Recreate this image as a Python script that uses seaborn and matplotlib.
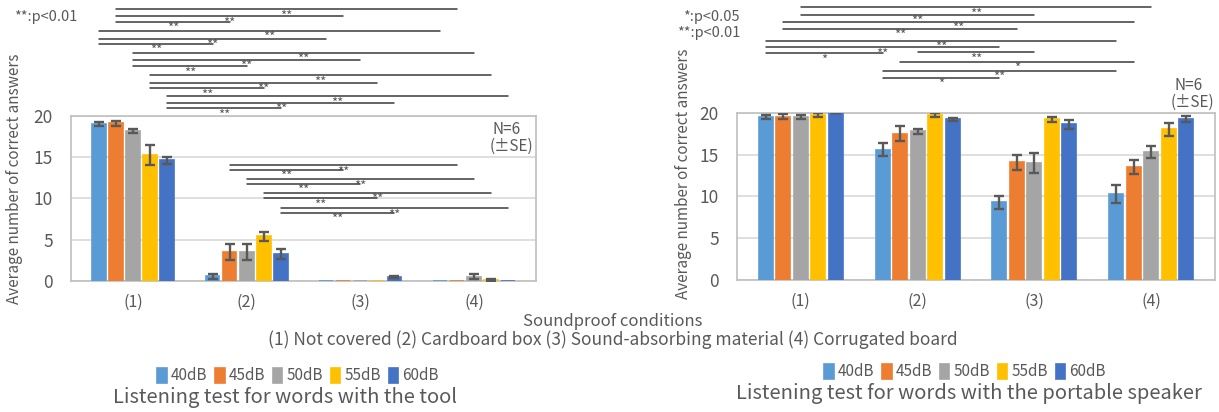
import numpy as np
import pandas as pd
import seaborn as sns
import matplotlib.pyplot as plt
from matplotlib.container import BarContainer

# data
conditions = ['(1)', '(2)', '(3)', '(4)']
levels = ['40dB', '45dB', '50dB', '55dB', '60dB']
colors = ['#5B9BD5', '#ED7D31', '#A5A5A5', '#FFC000', '#4472C4']

# listening test with the tool (rows = level, cols = condition)
tool_mean = [[19.0, 0.6, 0.0, 0.0],
             [19.1, 3.5, 0.0, 0.0],
             [18.1, 3.5, 0.0, 0.5],
             [15.2, 5.4, 0.0, 0.15],
             [14.6, 3.3, 0.5, 0.0]]
tool_se = [[0.25, 0.3, 0.0, 0.0],
           [0.3, 1.0, 0.0, 0.0],
           [0.25, 1.0, 0.0, 0.3],
           [1.2, 0.55, 0.0, 0.15],
           [0.45, 0.6, 0.15, 0.0]]

# listening test with the portable speaker
spk_mean = [[19.5, 15.6, 9.3, 10.3],
            [19.5, 17.5, 14.1, 13.5],
            [19.5, 17.8, 14.0, 15.3],
            [19.7, 19.7, 19.2, 18.0],
            [20.0, 19.2, 18.6, 19.2]]
spk_se = [[0.2, 0.8, 0.8, 1.05],
          [0.3, 0.9, 0.9, 0.85],
          [0.2, 0.3, 1.2, 0.7],
          [0.25, 0.25, 0.3, 0.75],
          [0.0, 0.15, 0.5, 0.35]]

# significance brackets: (level, from condition, to condition, mark, height)
tool_sig = [('45dB', 0, 3, '**', 32.9), ('45dB', 0, 2, '**', 32.06), ('45dB', 0, 1, '**', 31.34),
            ('40dB', 0, 3, '**', 30.25), ('40dB', 0, 2, '**', 29.34), ('40dB', 0, 1, '**', 28.68),
            ('50dB', 0, 3, '**', 27.59), ('50dB', 0, 2, '**', 26.74), ('50dB', 0, 1, '**', 26.0),
            ('55dB', 0, 3, '**', 24.92), ('55dB', 0, 2, '**', 23.96), ('55dB', 0, 1, '**', 23.35),
            ('60dB', 0, 3, '**', 22.38), ('60dB', 0, 2, '**', 21.54), ('60dB', 0, 1, '**', 20.93),
            ('45dB', 1, 3, '**', 14.03), ('45dB', 1, 2, '**', 13.43),
            ('50dB', 1, 3, '**', 12.34), ('50dB', 1, 2, '**', 11.74),
            ('55dB', 1, 3, '**', 10.65), ('55dB', 1, 2, '**', 10.04),
            ('60dB', 1, 3, '**', 8.83), ('60dB', 1, 2, '**', 8.23)]
spk_sig = [('50dB', 0, 3, '**', 32.6), ('50dB', 0, 2, '**', 31.7),
           ('45dB', 0, 3, '**', 30.9), ('45dB', 0, 2, '**', 30.06),
           ('40dB', 0, 3, '**', 28.6), ('40dB', 0, 2, '**', 27.8), ('40dB', 0, 1, '*', 27.1),
           ('50dB', 1, 2, '**', 27.2), ('45dB', 1, 3, '*', 26.1),
           ('40dB', 1, 3, '**', 25.0), ('40dB', 1, 2, '*', 24.2)]

W, H = 1219, 412
TXT = '#595959'

sns.set_style('white')
plt.rcParams['font.family'] = ['Noto Sans CJK JP', 'DejaVu Sans']

fig = plt.figure(figsize=(W / 100, H / 100), dpi=100)


def px(x, y):
    return x / W, 1 - y / H


def long_df(means, ses):
    rows = []
    for i, lv in enumerate(levels):
        for j, c in enumerate(conditions):
            rows.append({'condition': c, 'level': lv, 'mean': means[i][j], 'se': ses[i][j]})
    return pd.DataFrame(rows)


def draw(ax, means, ses, sig):
    df = long_df(means, ses)
    sns.barplot(data=df, x='condition', y='mean', hue='level', order=conditions,
                hue_order=levels, palette=colors, saturation=1, width=0.75, gap=0.2,
                errorbar=None, ax=ax, zorder=3)
    bars = [c for c in ax.containers if isinstance(c, BarContainer)]
    for p in ax.patches:
        p.set_edgecolor(p.get_facecolor())
        p.set_linewidth(1.2)
    # error bars (±SE)
    for i, cont in enumerate(bars):
        for j, bar in enumerate(cont):
            if means[i][j] <= 0:
                continue
            ax.errorbar(bar.get_x() + bar.get_width() / 2, bar.get_height(), yerr=ses[i][j],
                        fmt='none', ecolor=TXT, elinewidth=1.7, capsize=3.5, capthick=1.7, zorder=4)
    # significance lines
    for lv, a, b, mark, y in sig:
        cont = bars[levels.index(lv)]
        x1 = cont[a].get_x() + cont[a].get_width() / 2
        x2 = cont[b].get_x() + cont[b].get_width() / 2
        ax.plot([x1, x2], [y, y], color='#3a3a3a', lw=1.1, clip_on=False, zorder=5)
        ax.annotate(mark, ((x1 + x2) / 2, y), xytext=(0, -0.3), textcoords='offset points',
                    ha='center', va='top', fontsize=9.5, color=TXT, annotation_clip=False)
    ax.set_ylim(0, 20)
    ax.set_yticks([0, 5, 10, 15, 20])
    ax.yaxis.grid(True, color='#D9D9D9', lw=1.2)
    ax.set_axisbelow(True)
    for s in ax.spines.values():
        s.set_color('#BFBFBF')
        s.set_linewidth(1.2)
    ax.tick_params(axis='y', length=0, pad=13, labelsize=12.5, labelcolor=TXT)
    ax.tick_params(axis='x', length=0, pad=9, labelsize=11.5, labelcolor=TXT)
    ax.set_xlabel('')
    ax.set_ylabel('')
    handles, labels = ax.get_legend_handles_labels()
    ax.get_legend().remove()
    return handles, labels


ax1 = fig.add_axes([71 / W, 1 - 281 / H, (536 - 71) / W, (281 - 115.7) / H])
ax2 = fig.add_axes([737 / W, 1 - 280 / H, (1215 - 737) / W, (280 - 112.7) / H])

h1, l1 = draw(ax1, tool_mean, tool_se, tool_sig)
h2, l2 = draw(ax2, spk_mean, spk_se, spk_sig)

leg_kw = dict(loc='center', ncol=5, frameon=False, fontsize=11, handlelength=0.6,
              handleheight=1.1, handletextpad=0.25, columnspacing=0.55,
              bbox_transform=fig.transFigure, labelcolor=TXT)
fig.legend(h1, l1, bbox_to_anchor=px(298, 376), **leg_kw)
fig.legend(h2, l2, bbox_to_anchor=px(965, 372), **leg_kw)

fig.text(*px(15, 179), 'Average number of correct answers', rotation=90, ha='center',
         va='center', fontsize=11, color=TXT)
fig.text(*px(683, 174), 'Average number of correct answers', rotation=90, ha='center',
         va='center', fontsize=11, color=TXT)

fig.text(*px(613, 322), 'Soundproof conditions', ha='center', va='center', fontsize=12, color=TXT)
fig.text(*px(613, 340), '(1) Not covered (2) Cardboard box (3) Sound-absorbing material (4) Corrugated board',
         ha='center', va='center', fontsize=12.5, color=TXT)

fig.text(*px(285, 398), 'Listening test for words with the tool', ha='center', va='center',
         fontsize=14.5, color=TXT)
fig.text(*px(969, 393), 'Listening test for words with the portable speaker', ha='center',
         va='center', fontsize=14.5, color=TXT)

fig.text(*px(46, 17), '**:p<0.01', ha='center', va='center', fontsize=10.5, color=TXT)
fig.text(*px(740, 17), '*:p<0.05', ha='right', va='center', fontsize=10.5, color=TXT)
fig.text(*px(740, 33), '**:p<0.01', ha='right', va='center', fontsize=10.5, color=TXT)

fig.text(*px(493, 129), 'N=6', ha='left', va='center', fontsize=11, color=TXT)
fig.text(*px(490, 146), '(±SE)', ha='left', va='center', fontsize=11, color=TXT)
fig.text(*px(1174, 85), 'N=6', ha='left', va='center', fontsize=11, color=TXT)
fig.text(*px(1171, 102), '(±SE)', ha='left', va='center', fontsize=11, color=TXT)

fig.savefig('out.png', dpi=100)
